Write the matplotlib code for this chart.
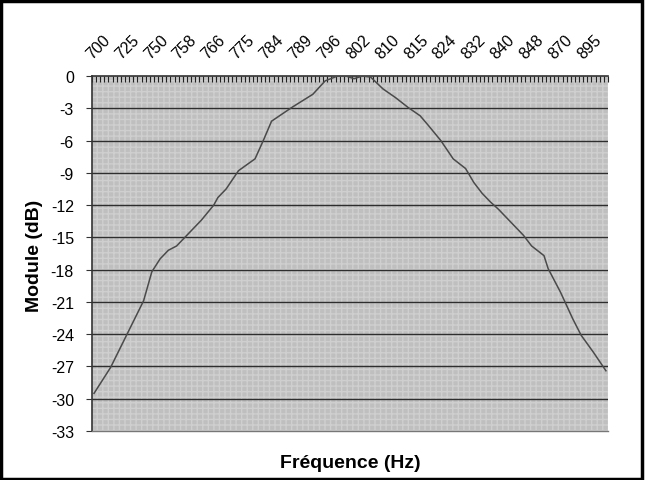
import numpy as np
import matplotlib
matplotlib.use('Agg')
import matplotlib.pyplot as plt
from matplotlib.patches import Rectangle

# Category axis: 125 frequency samples, a label every 7 categories
n_cat = 125
label_idx = [0, 7, 14, 21, 28, 35, 42, 49, 56, 63, 70, 77, 84, 91, 98, 105, 112, 119]
freq_labels = ['700', '725', '750', '758', '766', '775', '784', '789', '796',
               '802', '810', '815', '824', '832', '840', '848', '870', '895']

# Curve (category index, module in dB)
pt_idx = [0, 4, 8, 12, 14, 16, 18, 20, 22, 26, 29, 30, 32, 35, 39, 41, 43, 48,
          53, 56, 59, 61, 63, 65, 67, 70, 73, 76, 79, 81, 84, 87, 90, 92, 94,
          96, 98, 104, 106, 109, 110, 113, 116, 118, 121, 124]
module_db = [-29.5, -27.1, -24.0, -20.9, -18.2, -17.0, -16.2, -15.8, -15.0, -13.4,
             -12.0, -11.3, -10.5, -8.8, -7.7, -6.0, -4.2, -2.9,
             -1.7, -0.45, 0.0, 0.0, -0.25, 0.0, -0.1, -1.2, -2.0, -2.9, -3.7, -4.6,
             -6.0, -7.7, -8.6, -9.9, -10.9,
             -11.7, -12.4, -14.8, -15.8, -16.7, -17.9, -20.1, -22.6, -24.1, -25.7, -27.4]

y_ticks = np.arange(-33, 1, 3)

plt.rcParams['font.family'] = ['Liberation Sans', 'DejaVu Sans']

fig = plt.figure(figsize=(6.45, 4.81), dpi=100)
ax = fig.add_axes([0.1426, 0.1019, 0.80, 0.738])

# dithered grey plot area
ax.set_facecolor('#bfbfbf')
ax.patch.set_hatch('+++')
ax.patch.set_edgecolor('#cfcfcf')
ax.patch.set_linewidth(0)

for yv in y_ticks[1:-1]:
    ax.axhline(yv, color='#2e2e2e', lw=1.0, zorder=1)

ax.plot(pt_idx, module_db, color='#4a4a4a', lw=1.1, zorder=3)

ax.set_xlim(-0.5, n_cat - 0.5)
ax.set_ylim(-33, 0)

ax.xaxis.tick_top()
ax.set_xticks(label_idx)
ax.set_xticklabels(freq_labels, rotation=45, ha='left', va='bottom',
                   rotation_mode='anchor', fontsize=11.5)
ax.set_xticks(np.arange(n_cat + 1) - 0.5, minor=True)
ax.tick_params(axis='x', which='major', length=0, pad=11)
ax.tick_params(axis='x', which='minor', direction='in', length=4, width=0.8,
               color='#222222', top=True, bottom=False)

ax.set_yticks(y_ticks)
ax.set_yticklabels([str(v) for v in y_ticks], fontsize=11.5)
ax.tick_params(axis='y', direction='out', length=4, width=0.8, color='#333333', pad=9)

for side in ['top', 'left']:
    ax.spines[side].set_color('#333333')
    ax.spines[side].set_linewidth(1.2)
ax.spines['right'].set_visible(False)
ax.spines['bottom'].set_color('#777777')
ax.spines['bottom'].set_linewidth(1.0)

fig.text(0.054, 0.468, 'Module (dB)', rotation=90, ha='center', va='center',
         fontsize=14, fontweight='bold')
fig.text(0.5426, 0.036, 'Fréquence (Hz)', ha='center', va='center',
         fontsize=14, fontweight='bold')

# outer frame
fig.patches.append(Rectangle((0.002, 0.003), 0.994, 0.992, transform=fig.transFigure,
                             fill=False, edgecolor='black', lw=2.5))

fig.savefig('out.png', dpi=100)
